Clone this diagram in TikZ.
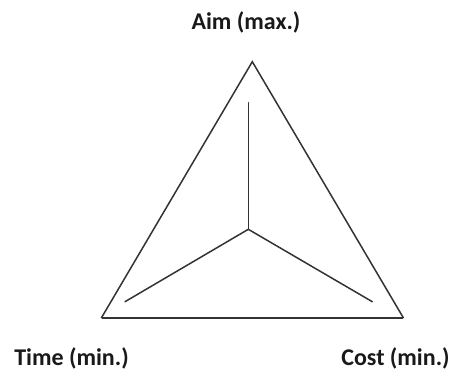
\documentclass[tikz,border=0pt]{standalone}
\usepackage{fontspec}
\setmainfont{Carlito}
\begin{document}
\begin{tikzpicture}[x=1pt,y=-1pt,
  edge/.style={line width=1.5pt,draw=black!80,line cap=round,line join=miter},
  label/.style={font=\fontsize{24}{28}\selectfont\bfseries,text=black!90,inner sep=0pt,anchor=base}]
\useasboundingbox (0,0) rectangle (449,370);
\coordinate (A) at (252.3,61.7);
\coordinate (L) at (101.5,317.7);
\coordinate (R) at (403.3,317.7);
\coordinate (C) at (248.3,229.3);
\coordinate (Ct) at (248.3,102.7);
\coordinate (Cl) at (125,301.7);
\coordinate (Cr) at (372.3,301.7);
\draw[edge] (L) -- (A) -- (R);
\draw[edge,line width=2.4pt,line cap=butt] (L) -- (R);
\draw[edge] (Ct) -- (C);
\draw[edge] (Cl) -- (C) -- (Cr);
\node[label] (aim) at (246,29.5) {Aim (max.)};
\node[label] (time) at (71.5,365.5) {Time (min.)};
\node[label] (cost) at (395.5,365.5) {Cost (min.)};
\end{tikzpicture}
\end{document}
